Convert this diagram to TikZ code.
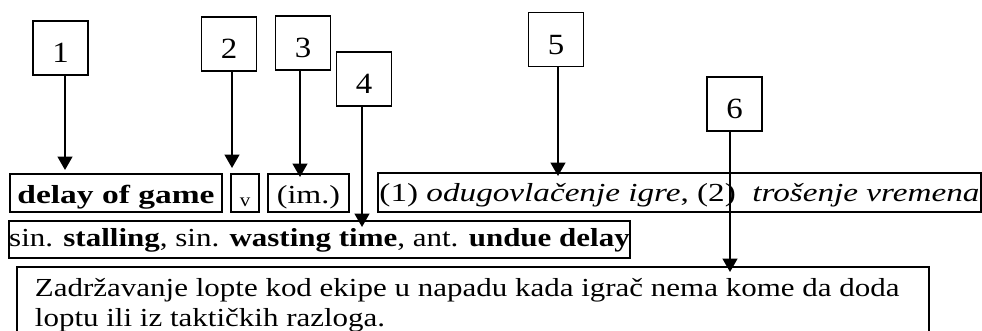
\documentclass[tikz,border=0pt]{standalone}
\usepackage{fontspec}
\usepackage{graphicx}
\setmainfont{Liberation Serif}[FakeStretch=1.12]
\usetikzlibrary{arrows.meta}
\newcommand{\hsc}[2]{\scalebox{#1}[1]{#2}}
\begin{document}
\begin{tikzpicture}[x=0.75pt,y=-0.75pt,line width=1.4pt,
  numbox/.style={draw,inner sep=0pt,minimum width=41.25pt,minimum height=40.5pt,
    font=\fontsize{22}{26}\selectfont,text height=22.5pt,text depth=0pt},
  rowbox/.style={draw,inner sep=0pt,font=\fontsize{19.5}{23}\selectfont},
  arr/.style={-{Triangle[width=11pt,length=10pt]},line width=1.5pt}]
\useasboundingbox (0,0) rectangle (982,331);
% number boxes
\node[numbox] (b1) at (60.5,48) {1};
\node[numbox] (b2) at (229,44) {2};
\node[numbox] (b3) at (303,43) {3};
\node[numbox] (b4) at (364,79) {4};
\node[numbox] (b5) at (556,39.5) {5};
\node[numbox] (b6) at (734.5,104) {6};
% entry boxes
\node[rowbox,minimum width=159pt,text height=22.5pt,text depth=6pt] (r1a) at (116,193) {\hsc{1.15}{\textbf{delay of game}}};
\node[rowbox,minimum width=21pt,text height=24.75pt,text depth=3.75pt,font=\fontsize{14}{16}\selectfont] (r1b) at (245,193) {v};
\node[rowbox,minimum width=60.75pt,text height=22.5pt,text depth=6pt] (r1c) at (308.5,193) {\hsc{1.1}{(im.)}};
\node[rowbox,minimum width=452.25pt,text height=21.75pt,text depth=7.5pt] (r1d) at (679.5,192.5) {\hsc{1.14}{(1) \textit{odugovlačenje igre}, (2)\ \ \textit{trošenje vremena}}};
\node[rowbox,minimum width=464.25pt,text height=19.5pt,text depth=8.25pt] (r2) at (319.5,239.5) {\hsc{1.064}{sin. \textbf{stalling}, sin. \textbf{wasting time}, ant. \textbf{undue delay}}};
\node[draw,inner sep=0pt,anchor=north west,minimum width=684pt,minimum height=75pt] (desc) at (16,266) {};
\node[inner sep=0pt,anchor=north west,align=left,font=\fontsize{19.5}{22.5}\selectfont] (desctext) at (34,277)
  {\hsc{1.064}{Zadržavanje lopte kod ekipe u napadu kada igrač nema kome da doda}\\\hsc{1.064}{loptu ili iz taktičkih razloga.}};
% arrow tips
\coordinate (t1) at (65,170);
\coordinate (t2) at (232,168);
\coordinate (t3) at (300,177);
\coordinate (t4) at (362,227);
\coordinate (t5) at (558,176);
\coordinate (t6) at (730,272);
\draw[arr] (b1.south -| t1) -- (t1);
\draw[arr] (b2.south -| t2) -- (t2);
\draw[arr] (b3.south -| t3) -- (t3);
\draw[arr] (b4.south -| t4) -- (t4);
\draw[arr] (b5.south -| t5) -- (t5);
\draw[arr] (b6.south -| t6) -- (t6);
\end{tikzpicture}
\end{document}
